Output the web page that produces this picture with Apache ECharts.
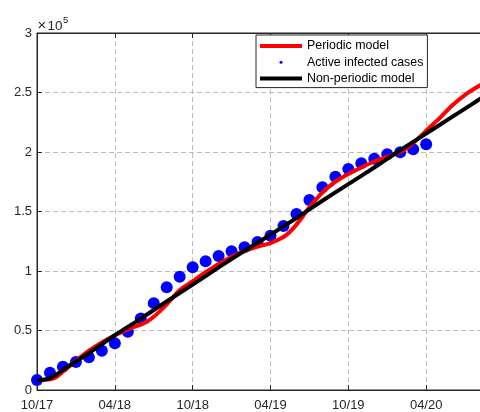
<!DOCTYPE html>
<html>
<head>
<meta charset="utf-8">
<script src="https://cdn.jsdelivr.net/npm/echarts@6/dist/echarts.min.js"></script>
<style>
  html, body { margin: 0; padding: 0; background: #fff; }
  #chart { width: 480px; height: 412px; }
</style>
</head>
<body>
<div id="chart"></div>
<script>
// Tick labels every six months (month index 0 = Oct 2017)
const tickLabels = ['10/17', '04/18', '10/18', '04/19', '10/19', '04/20', '10/20'];

// Observed active infected cases, one per month
const caseMonths = [0, 1, 2, 3, 4, 5, 6, 7, 8, 9, 10, 11, 12, 13, 14, 15, 16, 17, 18, 19, 20,
  21, 22, 23, 24, 25, 26, 27, 28, 29, 30];
const activeCases = [8400, 14500, 19600, 23500, 27500, 33000, 39200, 49000, 60000, 73000,
  86300, 95200, 103100, 108200, 112600, 116600, 119900, 124400, 129700, 137800, 147900,
  159700, 170300, 179200, 185700, 190500, 194400, 198100, 199700, 202300, 206500];

// Periodic model fit
const periodicMonths = [0, 0.5, 1, 1.5, 2, 3, 4, 5, 6, 7, 7.5, 8, 8.5, 9, 9.5, 10, 10.5, 11,
  12, 13, 14, 15, 16, 17, 18, 19, 19.5, 20, 20.5, 21, 22, 23, 24, 25, 26, 27, 28, 28.5, 29,
  29.5, 30, 31, 32, 33, 34, 35];
const periodicCases = [8400, 8500, 9000, 11000, 15500, 24500, 33000, 40000, 46000, 51000,
  53000, 55000, 57500, 61500, 66500, 72000, 78000, 84000, 91500, 99000, 106000, 112000,
  117000, 120500, 123500, 128500, 133000, 139000, 146000, 153500, 166000, 175000, 181500,
  187000, 192000, 196000, 200000, 203000, 207500, 212500, 218000, 228000, 239000, 248000,
  255000, 261000];

// Non-periodic model fit
const trendMonths = [0, 0.5, 1, 1.5, 2, 3, 4, 6, 8, 10, 12, 14, 16, 18, 20, 22, 24, 26, 28,
  30, 32, 34, 35];
const trendCases = [8400, 8700, 10000, 13000, 17000, 24000, 31000, 46000, 60000, 74500,
  88500, 103000, 117000, 130500, 144500, 159000, 173000, 187000, 201500, 215500, 229500,
  243500, 250500];

const pairs = (xs, ys) => xs.map((x, i) => [x, ys[i]]);

const axisColor = '#262626';
const gridLine = { show: true, lineStyle: { type: [5, 3], color: '#bdbdbd', width: 1 } };
const font = 'Liberation Sans';

const chart = echarts.init(document.getElementById('chart'), null, { renderer: 'canvas' });

chart.setOption({
  animation: false,
  backgroundColor: '#ffffff',
  textStyle: { fontFamily: font },
  grid: {
    left: 37, top: 33, width: 467, bottom: 22,
    outerBoundsMode: 'none', containLabel: false,
    show: true, borderColor: axisColor, borderWidth: 1, backgroundColor: 'transparent'
  },
  xAxis: [{
    type: 'value', min: 0, max: 36, interval: 6,
    axisLine: { show: true, lineStyle: { color: axisColor, width: 1 } },
    axisTick: { show: true, inside: true, length: 5, lineStyle: { color: axisColor } },
    axisLabel: {
      formatter: v => tickLabels[Math.round(v / 6)] || '',
      fontSize: 13, color: axisColor, margin: 9, fontFamily: font
    },
    splitLine: gridLine
  }, {
    type: 'value', min: 0, max: 36, interval: 6, position: 'top',
    axisLine: { show: true, lineStyle: { color: axisColor, width: 1 } },
    axisTick: { show: true, inside: true, length: 5, lineStyle: { color: axisColor } },
    axisLabel: { show: false },
    splitLine: { show: false }
  }],
  yAxis: {
    type: 'value', min: 0, max: 300000, interval: 50000,
    axisLine: { show: true, lineStyle: { color: axisColor, width: 1 } },
    axisTick: { show: true, inside: true, length: 5, lineStyle: { color: axisColor } },
    axisLabel: {
      formatter: v => String(v / 100000),
      fontSize: 13, color: axisColor, margin: 5, fontFamily: font
    },
    splitLine: gridLine
  },
  legend: {
    orient: 'vertical',
    left: 256, top: 35,
    padding: [5, 4, 3, 2],
    itemWidth: 42, itemHeight: 3, itemGap: 4.3, itemTextGap: 3,
    backgroundColor: '#ffffff', borderColor: axisColor, borderWidth: 1, borderRadius: 0,
    textStyle: { fontSize: 12.4, color: '#000', fontFamily: font },
    lineStyle: { width: 4 },
    data: ['Periodic model', 'Active infected cases', 'Non-periodic model']
  },
  // axis exponent: ×10^5
  graphic: [
    { type: 'text', style: { x: 37.5, y: 26, text: '×', fontSize: 15, fontFamily: font,
      fill: axisColor, verticalAlign: 'middle' } },
    { type: 'text', style: { x: 47.5, y: 26, text: '10', fontSize: 13.5, fontFamily: font,
      fill: axisColor, verticalAlign: 'middle' } },
    { type: 'text', style: { x: 63, y: 20.5, text: '5', fontSize: 9.5, fontFamily: font,
      fill: axisColor, verticalAlign: 'middle' } }
  ],
  series: [{
    name: 'Periodic model', type: 'line', xAxisIndex: 0,
    data: pairs(periodicMonths, periodicCases),
    symbol: 'none', smooth: 0.3,
    lineStyle: { color: '#ff0000', width: 4 }, itemStyle: { color: '#ff0000' }
  }, {
    name: 'Active infected cases', type: 'scatter', xAxisIndex: 0,
    data: pairs(caseMonths, activeCases),
    symbol: 'circle', symbolSize: 12,
    itemStyle: { color: '#0000ff', opacity: 1 }
  }, {
    name: 'Non-periodic model', type: 'line', xAxisIndex: 0,
    data: pairs(trendMonths, trendCases),
    symbol: 'none', smooth: 0.3,
    lineStyle: { color: '#000000', width: 4 }, itemStyle: { color: '#000000' }
  }]
});
</script>
</body>
</html>
